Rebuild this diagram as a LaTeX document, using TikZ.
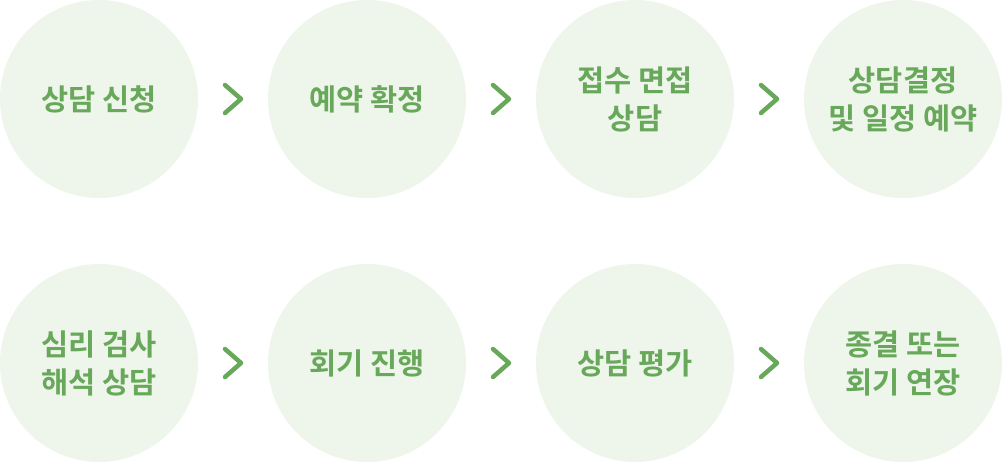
\documentclass[tikz,border=0pt]{standalone}
\usepackage{fontspec}
\usetikzlibrary{calc}
\newfontfamily\krfont{Noto Sans CJK KR}[BoldFont={Noto Sans CJK KR Bold}]
\definecolor{stagefill}{HTML}{EEF5EA}
\definecolor{stagetext}{HTML}{68A85A}
\tikzset{stage/.style={circle,fill=stagefill,minimum size=198pt,inner sep=0pt,
  text=stagetext,align=center,font=\krfont\bfseries\fontsize{29.5}{38}\selectfont}}
\tikzset{nextmark/.style={draw=stagetext,line width=4.5pt,line cap=round,line join=round}}

\begin{document}
\begin{tikzpicture}[x=1pt,y=-1pt]
\useasboundingbox (0,0) rectangle (1002,462);
% first row
\node[stage] (apply) at (99,99) {상담 신청};
\node[stage] (book) at (367,99) {예약 확정};
\node[stage] (intake) at (635,99) {접수 면접\\상담};
\node[stage] (plan) at (903,99) {상담결정\\및 일정 예약};
% second row
\node[stage] (test) at (99,363) {심리 검사\\해석 상담};
\node[stage] (session) at (367,363) {회기 진행};
\node[stage] (review) at (635,363) {상담 평가};
\node[stage] (close) at (903,363) {종결 또는\\회기 연장};
% chevrons
\foreach \a/\b in {apply/book,book/intake,intake/plan,test/session,session/review,review/close}
  \draw[nextmark] ($(\a)!.5!(\b)$) ++(-8,-14) -- ++(16,14) -- ++(-16,14);
\end{tikzpicture}
\end{document}
